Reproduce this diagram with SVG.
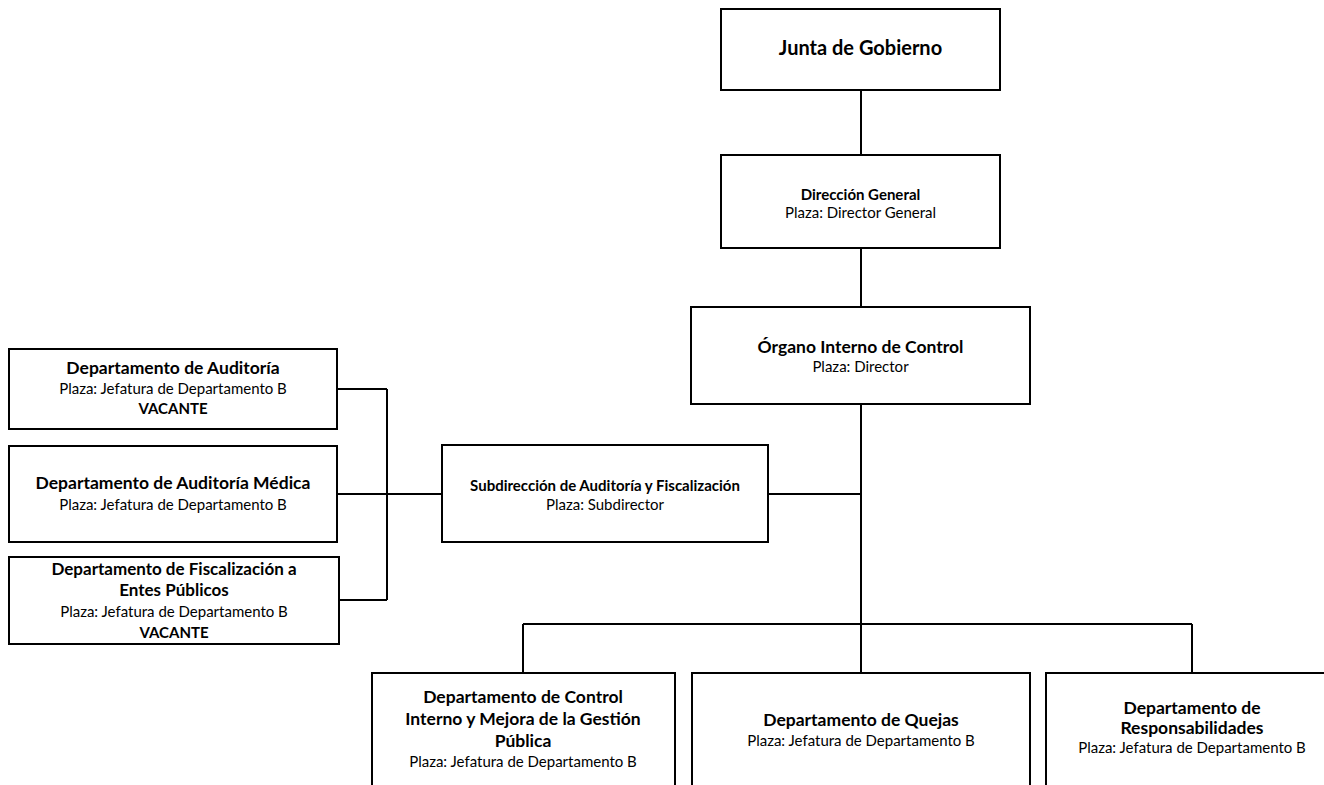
<svg xmlns="http://www.w3.org/2000/svg" width="1324" height="785" viewBox="0 0 1324 785">
<style>
.box{fill:#fff;stroke:#000;stroke-width:2}
.ln{fill:none;stroke:#000;stroke-width:2}
text{font-family:Lato,"Open Sans","Liberation Sans",sans-serif;text-anchor:middle;fill:#000}
.b{font-weight:bold}
.t20{font-size:20px}
.h{font-size:17.5px}
.s{font-size:15px}
.p{font-size:15px}
</style>
<rect width="1324" height="785" fill="#fff"/>
<g id="connectors">
<path class="ln" d="M861 90V155M861 248V307M861 404V624M768 494H861M523 624H1192M523 624V673M861 624V673M1192 624V673M442 494H338M387 389V600M338 389H387M339 600H387"/>
</g>
<g id="junta"><rect class="box" x="721" y="9" width="279" height="81"/><text class="b t20" x="860.5" y="55">Junta de Gobierno</text></g>
<g id="direccion"><rect class="box" x="721" y="155" width="279" height="93"/><text class="b s" x="860.5" y="200">Dirección General</text><text class="p" x="860.5" y="218">Plaza: Director General</text></g>
<g id="organo"><rect class="box" x="691" y="307" width="339" height="97"/><text class="b h" x="860.5" y="353">Órgano Interno de Control</text><text class="p" x="860.5" y="372">Plaza: Director</text></g>
<g id="subdireccion"><rect class="box" x="442" y="445" width="326" height="97"/><text class="b s" x="605" y="491">Subdirección de Auditoría y Fiscalización</text><text class="p" x="605" y="510">Plaza: Subdirector</text></g>
<g id="dep-auditoria"><rect class="box" x="9" y="349" width="328" height="80"/><text class="b h" x="173" y="374">Departamento de Auditoría</text><text class="p" x="173" y="394">Plaza: Jefatura de Departamento B</text><text class="b s" x="173" y="414">VACANTE</text></g>
<g id="dep-medica"><rect class="box" x="9" y="446" width="328" height="96"/><text class="b h" x="173" y="489">Departamento de Auditoría Médica</text><text class="p" x="173" y="510">Plaza: Jefatura de Departamento B</text></g>
<g id="dep-fiscalizacion"><rect class="box" x="9" y="557" width="330" height="87"/><text class="b" style="font-size:17px" x="174" y="575">Departamento de Fiscalización a</text><text class="b" style="font-size:17px" x="174" y="596">Entes Públicos</text><text class="p" x="174" y="617">Plaza: Jefatura de Departamento B</text><text class="b s" x="174" y="638">VACANTE</text></g>
<g id="dep-control"><rect class="box" x="372" y="673" width="303" height="130"/><text class="b h" x="523" y="703">Departamento de Control</text><text class="b h" x="523" y="725">Interno y Mejora de la Gestión</text><text class="b h" x="523" y="747">Pública</text><text class="p" x="523" y="767">Plaza: Jefatura de Departamento B</text></g>
<g id="dep-quejas"><rect class="box" x="692" y="673" width="338" height="130"/><text class="b h" x="861" y="726">Departamento de Quejas</text><text class="p" x="861" y="746">Plaza: Jefatura de Departamento B</text></g>
<g id="dep-responsabilidades"><rect class="box" x="1046" y="673" width="300" height="130"/><text class="b h" x="1192" y="714">Departamento de</text><text class="b h" x="1192" y="734">Responsabilidades</text><text class="p" x="1192" y="753">Plaza: Jefatura de Departamento B</text></g>
</svg>
